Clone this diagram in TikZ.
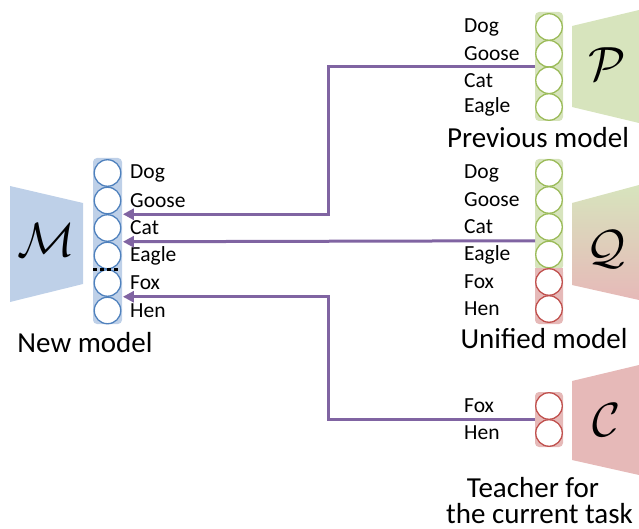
\documentclass[tikz,border=0pt]{standalone}
\usepackage{graphicx}
\usepackage{fontspec}
\setmainfont{Carlito}
\usetikzlibrary{arrows.meta,calc}
\definecolor{bline}{RGB}{79,129,189}
\definecolor{bbg}{RGB}{190,208,232}
\definecolor{gline}{RGB}{155,187,89}
\definecolor{gbg}{RGB}{215,228,189}
\definecolor{rline}{RGB}{192,80,77}
\definecolor{rbg}{RGB}{230,185,184}
\definecolor{purp}{RGB}{128,100,162}
\newcommand{\bigsym}[1]{\scalebox{4.8}{$\mathcal{#1}$}}
\tikzset{
  circ/.style={circle,draw=#1,fill=white,line width=1.3pt,minimum size=26.5pt,inner sep=0pt},
  lab/.style={anchor=west,inner sep=0pt,font=\fontsize{21.5}{24}\selectfont},
  ttl/.style={inner sep=0pt,anchor=base,font=\fontsize{29}{33}\selectfont},
  sym/.style={inner sep=0pt},
  arr/.style={draw=purp,line width=3pt,-{Triangle[length=11pt,width=11pt]}},
}
\begin{document}
\begin{tikzpicture}[x=1pt,y=-1pt]
\useasboundingbox (0,0) rectangle (639,529);
% ---------- New model M ----------
\fill[bbg] (10,186) -- (83,203) -- (83,284) -- (10,302) -- cycle;
\node[sym] (symM) at (46,240) {\bigsym{M}};
\fill[bbg,rounded corners=4pt] (93,158) rectangle (122,324);
\foreach \n/\y/\t in {1/173/Dog,2/200.5/Goose,3/228/Cat,4/255.5/Eagle,5/283/Fox,6/310.5/Hen}{
  \node[circ=bline] (m\n) at (107.5,\y) {};
  \node[lab] (ml\n) at (130,\y) {\t};
}
\draw[line width=3pt,dash pattern=on 3.5pt off 3.5pt] (93,269) -- (121,269);
\node[ttl] (tM) at (85,352) {New model};
% ---------- Previous model P ----------
\fill[gbg] (572,26) -- (639,10) -- (639,123) -- (572,107) -- cycle;
\node[sym] (symP) at (607,64) {\bigsym{P}};
\fill[gbg,rounded corners=4pt] (535,12) rectangle (563,121);
\foreach \n/\y/\t in {1/27/Dog,2/53.7/Goose,3/80.3/Cat,4/107/Eagle}{
  \node[circ=gline] (p\n) at (549,\y) {};
  \node[lab] (pl\n) at (464,\y) {\t};
}
\node[ttl] (tP) at (538,148) {Previous model};
% ---------- Unified model Q ----------
\shade[top color=gbg,bottom color=rbg] (572,203) -- (639,185) -- (639,300) -- (572,285) -- cycle;
\node[sym] (symQ) at (606,249) {\bigsym{Q}};
\fill[gbg,rounded corners=4pt] (535,159) rectangle (563,270);
\fill[rbg,rounded corners=4pt] (535,268) rectangle (563,324);
\fill[rbg] (535,268) rectangle (563,274);
\foreach \n/\y/\t/\c in {1/173/Dog/gline,2/200/Goose/gline,3/227/Cat/gline,4/254.5/Eagle/gline,5/282/Fox/rline,6/309/Hen/rline}{
  \node[circ=\c] (q\n) at (549,\y) {};
  \node[lab] (ql\n) at (464,\y) {\t};
}
\node[ttl] (tQ) at (544,348) {Unified model};
% ---------- Teacher C ----------
\fill[rbg] (572,381) -- (639,365) -- (639,475) -- (572,460) -- cycle;
\node[sym] (symC) at (607,420) {\bigsym{C}};
\fill[rbg,rounded corners=4pt] (535,392) rectangle (563,447);
\foreach \n/\y/\t in {1/406/Fox,2/433/Hen}{
  \node[circ=rline] (c\n) at (549,\y) {};
  \node[lab] (cl\n) at (464,\y) {\t};
}
\node[ttl] (tC1) at (533,497) {Teacher for};
\node[ttl] (tC2) at (539.5,523) {the current task};
% ---------- connectors ----------
\coordinate (pout) at ($(p2.west)!0.5!(p3.west)$);
\coordinate (qout) at ($(q3.west)!0.5!(q4.west)$);
\coordinate (cout) at ($(c1.west)!0.5!(c2.west)$);
\coordinate (min1) at ($(m2.east)!0.5!(m3.east)+(1.5,0)$);
\coordinate (min2) at ($(m3.east)!0.5!(m4.east)+(1.5,0)$);
\coordinate (min3) at ($(m5.east)!0.5!(m6.east)+(1.5,0)$);
\coordinate (bendx) at (328,0);
\draw[arr] (pout) -- (pout -| bendx) |- (min1);
\draw[arr] (qout) -- (min2);
\draw[arr] (cout) -- (cout -| bendx) |- (min3);
\end{tikzpicture}
\end{document}
